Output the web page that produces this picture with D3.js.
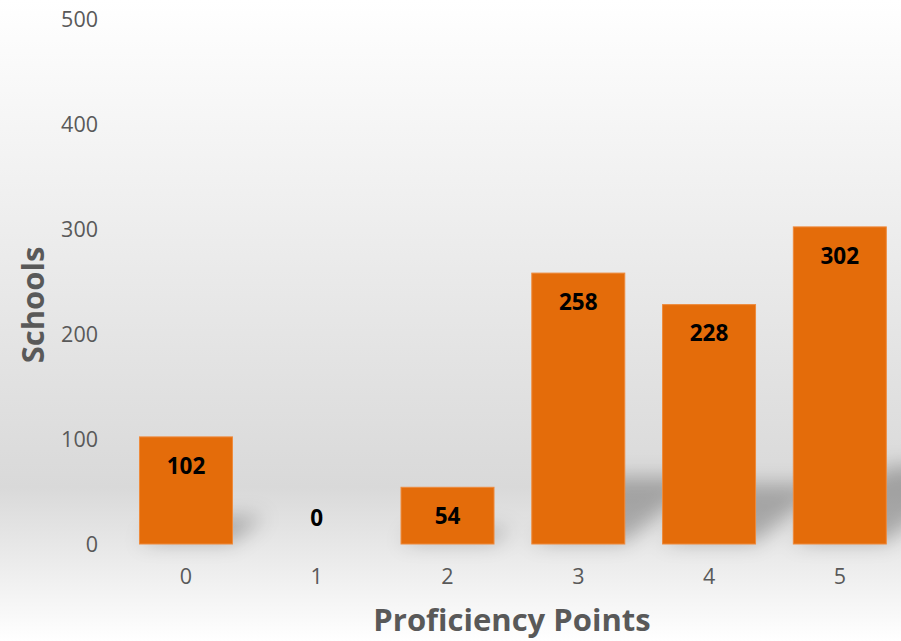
<!DOCTYPE html>
<html>
<head>
<meta charset="utf-8">
<script src="https://cdn.jsdelivr.net/npm/d3@7"></script>
<style>
  html, body { margin: 0; padding: 0; }
  body { width: 901px; height: 641px; overflow: hidden; }
</style>
</head>
<body>
<div id="chart"></div>
<script>
const points = ["0", "1", "2", "3", "4", "5"];
const schools = [102, 0, 54, 258, 228, 302];
const yTicks = [0, 100, 200, 300, 400, 500];

const width = 901, height = 641;
const font = "'Open Sans', sans-serif";

const svg = d3.select("#chart").append("svg")
  .attr("width", width)
  .attr("height", height)
  .style("font-family", font);

const defs = svg.append("defs");

const bg = defs.append("linearGradient")
  .attr("id", "bg")
  .attr("x1", 0).attr("y1", 0).attr("x2", 0).attr("y2", 1);
bg.append("stop").attr("offset", "0%").attr("stop-color", "#ffffff");
bg.append("stop").attr("offset", "76%").attr("stop-color", "#d9d9d9");
bg.append("stop").attr("offset", "100%").attr("stop-color", "#ffffff");

defs.append("filter")
  .attr("id", "blur")
  .attr("x", "-50%").attr("y", "-50%").attr("width", "200%").attr("height", "200%")
  .append("feGaussianBlur").attr("stdDeviation", 10);

svg.append("rect")
  .attr("width", width).attr("height", height)
  .attr("fill", "url(#bg)");

const x = d3.scaleBand()
  .domain(points)
  .range([120.6, 905.2])
  .paddingInner(0.289)
  .paddingOuter(0.1445);

const y = d3.scaleLinear()
  .domain([0, 500])
  .range([544, 19]);

const rows = points.map((p, i) => ({ p, v: schools[i] }));

// y tick labels
svg.append("g")
  .selectAll("text")
  .data(yTicks)
  .join("text")
  .attr("x", 98)
  .attr("y", d => y(d))
  .attr("dy", "0.35em")
  .attr("text-anchor", "end")
  .attr("font-size", 21.5)
  .attr("fill", "#595959")
  .text(d => d);

// x tick labels
svg.append("g")
  .selectAll("text")
  .data(points)
  .join("text")
  .attr("x", d => x(d) + x.bandwidth() / 2)
  .attr("y", 576)
  .attr("dy", "0.35em")
  .attr("text-anchor", "middle")
  .attr("font-size", 21.5)
  .attr("fill", "#595959")
  .text(d => d);

// perspective shadows
svg.append("g")
  .attr("filter", "url(#blur)")
  .selectAll("path")
  .data(rows.filter(d => d.v > 0))
  .join("path")
  .attr("fill", "#000")
  .attr("fill-opacity", 0.26)
  .attr("d", d => {
    const x0 = x(d.p), x1 = x0 + x.bandwidth();
    const base = y(0) - 2, h = y(0) - y(d.v);
    const dh = h * 0.24, dx = h * 0.3;
    return `M${x0},${base}L${x1},${base}L${x1 + dx},${base - dh}L${x0 + dx},${base - dh}Z`;
  });

// bars
svg.append("g")
  .selectAll("rect")
  .data(rows)
  .join("rect")
  .attr("x", d => x(d.p))
  .attr("y", d => y(d.v))
  .attr("width", x.bandwidth())
  .attr("height", d => y(0) - y(d.v))
  .attr("fill", "#e46c0a")
  .attr("stroke", d => d.v > 0 ? "#ee8a3c" : "none")
  .attr("stroke-width", 1);

// value labels
svg.append("g")
  .selectAll("text")
  .data(rows)
  .join("text")
  .attr("x", d => x(d.p) + x.bandwidth() / 2)
  .attr("y", d => Math.min(y(d.v) + 29, y(0) - 26))
  .attr("dy", "0.35em")
  .attr("text-anchor", "middle")
  .attr("font-size", 22.5)
  .attr("font-weight", "bold")
  .attr("fill", "#000")
  .text(d => d.v);

// axis titles
svg.append("text")
  .attr("x", 512)
  .attr("y", 620)
  .attr("dy", "0.35em")
  .attr("text-anchor", "middle")
  .attr("font-size", 31)
  .attr("font-weight", "bold")
  .attr("fill", "#595959")
  .text("Proficiency Points");

svg.append("text")
  .attr("transform", "translate(33,305) rotate(-90)")
  .attr("dy", "0.35em")
  .attr("text-anchor", "middle")
  .attr("font-size", 31)
  .attr("font-weight", "bold")
  .attr("fill", "#595959")
  .text("Schools");
</script>
</body>
</html>
